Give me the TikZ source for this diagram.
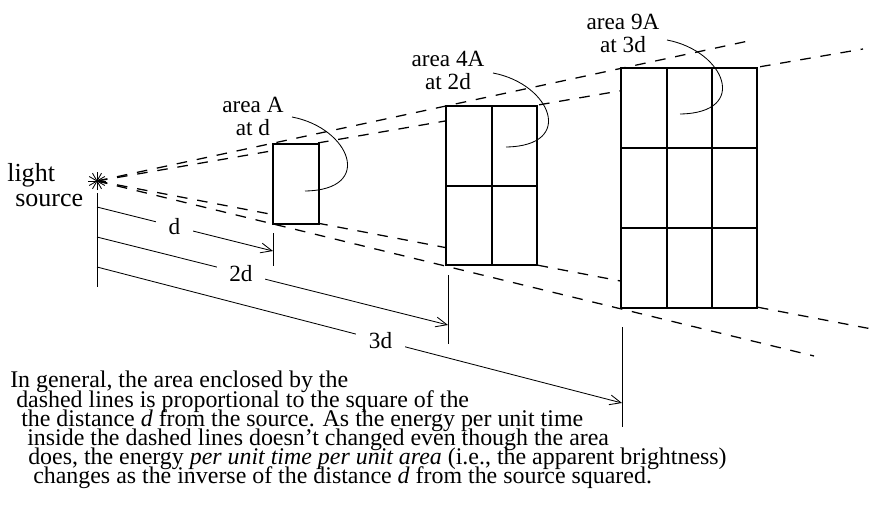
\documentclass[tikz,border=0pt]{standalone}
\usepackage{fontspec}
\setmainfont{Liberation Serif}
\usetikzlibrary{arrows.meta}
\tikzset{
  beam/.style={line width=0.9pt, dash pattern=on 7.5pt off 7pt},
  cell/.style={line width=1pt, fill=white},
  gridline/.style={line width=1pt},
  dimline/.style={line width=0.6pt},
  dimarrow/.style={line width=0.6pt, -{Straight Barb[length=8pt,width=7pt]}},
  dlabel/.style={fill=white, inner xsep=9pt, inner ysep=1pt},
  arealabel/.style={align=center, inner sep=0pt, anchor=base},
  notetext/.style={anchor=base west, inner sep=0pt, font=\fontsize{17}{17}\selectfont},
}

\begin{document}
\begin{tikzpicture}[x=0.025cm, y=-0.025cm, font=\fontsize{16.5}{16.3}\selectfont]
  \useasboundingbox (0,0) rectangle (880,513);
  \coordinate (src) at (97,181);

  % the four beams from the source
  \foreach \e [count=\i] in {(753,40),(863,49),(877,330),(814,356)}
    \draw[beam] (src) -- \e coordinate (b\i);

  % areas at d, 2d and 3d
  \draw[cell] (273,144) rectangle (319,224);
  \draw[cell] (446,106) rectangle (537,265);
  \draw[gridline] (492,106) -- (492,265) (446,186) -- (537,186);
  \draw[cell] (621,68) rectangle (757,308);
  \draw[gridline] (667,68) -- (667,308) (712,68) -- (712,308);
  \draw[gridline] (621,148) -- (757,148) (621,228) -- (757,228);

  % star
  \foreach \a in {0,30,...,150}
    \draw[dimline, shift={(src)}] (\a:9) -- (\a+180:9);
  \node[anchor=base west, inner sep=0pt, font=\fontsize{18.5}{18.5}\selectfont] (light) at (7,181) {light};
  \node[anchor=base west, inner sep=0pt, font=\fontsize{18.5}{18.5}\selectfont] (source) at (15,206) {source};

  % distances
  \draw[dimline] (97,193) -- (97,287);
  \coordinate (s1) at (97,207);
  \coordinate (s2) at (97,237);
  \coordinate (s3) at (97,267);
  \draw[dimline] (273,233) -- (273,266);
  \draw[dimline] (448,275) -- (448,344);
  \draw[dimline] (622,327) -- (622,427);
  \coordinate (t1) at (273,251);
  \coordinate (t2) at (448,325);
  \coordinate (t3) at (622,403);
  \draw[dimarrow] (s1) -- node[dlabel, pos=.44] (d1) {d} (t1);
  \draw[dimarrow] (s2) -- node[dlabel, pos=.41] (d2) {2d} (t2);
  \draw[dimarrow] (s3) -- node[dlabel, pos=.54] (d3) {3d} (t3);

  % area labels and pointers
  \node[arealabel] (areaA) at (253,135) {area A\\at d};
  \node[arealabel] (areaB) at (448,89) {area 4A\\at 2d};
  \node[arealabel] (areaC) at (623,52) {area 9A\\at 3d};
  \draw[dimline] (292,117) .. controls (350,128) and (375,190) .. (305,191);
  \draw[dimline] (493,73) .. controls (551,84) and (576,146) .. (506,147);
  \draw[dimline] (667,40) .. controls (725,51) and (750,113) .. (680,114);

  % note
  \foreach \x/\y/\t [count=\i] in {
    10/387/{In general, the area enclosed by the},
    16/407/{dashed lines is proportional to the square of the},
    21/426/{the distance \textit{d} from the source.  As the energy per unit time},
    27/445/{inside the dashed lines doesn't changed even though the area},
    28/464/{does, the energy \textit{per unit time per unit area} (i.e., the apparent brightness)},
    33/483/{changes as the inverse of the distance \textit{d} from the source squared.}}
    \node[notetext] (note\i) at (\x,\y) {\t};
\end{tikzpicture}
\end{document}
